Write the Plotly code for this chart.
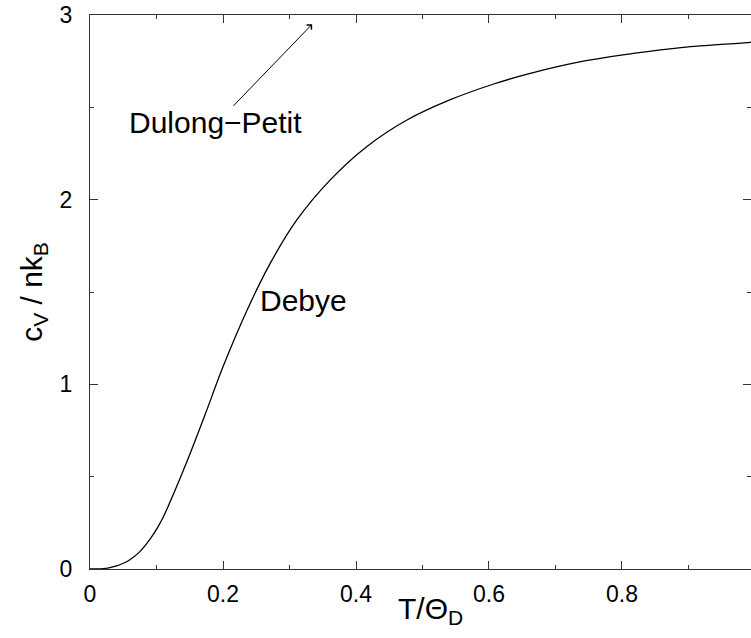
import plotly.graph_objects as go

# Debye curve
t_vals = [0.0, 0.01, 0.02, 0.03, 0.04, 0.05, 0.06, 0.075, 0.09, 0.102, 0.11, 0.12, 0.133,
          0.15, 0.173, 0.2, 0.236, 0.271, 0.311, 0.361, 0.416, 0.476, 0.541, 0.606,
          0.662, 0.742, 0.817, 0.892, 0.992, 1.0]
cv_vals = [0.0, 0.0003, 0.002, 0.008, 0.017, 0.031, 0.05, 0.094, 0.16, 0.227, 0.28, 0.36, 0.47,
           0.62, 0.835, 1.095, 1.40, 1.655, 1.89, 2.106, 2.287, 2.43, 2.54, 2.625,
           2.684, 2.75, 2.792, 2.825, 2.852, 2.856]

x_ticks = [0, 0.2, 0.4, 0.6, 0.8]
x_tick_labels = ["0", "0.2", "0.4", "0.6", "0.8"]
y_ticks = [0, 1, 2, 3]
y_tick_labels = ["0", "1", "2", "3"]
x_max = 0.994

FONT = "Liberation Sans, Arial, Helvetica, sans-serif"
TICK_SIZE = 23
TITLE_SIZE = 30
LABEL_SIZE = 30

fig = go.Figure()
fig.add_trace(go.Scatter(x=t_vals, y=cv_vals, mode="lines",
                         line=dict(color="black", width=1.3, shape="spline", smoothing=1.0),
                         showlegend=False, hoverinfo="skip"))

axis_common = dict(showgrid=False, zeroline=False, showline=True, linecolor="#333",
                   linewidth=1, mirror="ticks", ticks="inside", tickcolor="#333",
                   tickwidth=1, ticklen=8, automargin=False,
                   tickfont=dict(family=FONT, size=TICK_SIZE, color="black"))

fig.update_xaxes(range=[0, x_max], tickvals=x_ticks, ticktext=x_tick_labels,
                 minor=dict(dtick=0.1, tick0=0, ticks="inside", ticklen=4,
                            tickcolor="#333", tickwidth=1),
                 ticklabelstandoff=4, **axis_common)
fig.update_yaxes(range=[0, 3], tickvals=y_ticks, ticktext=y_tick_labels,
                 minor=dict(dtick=0.5, tick0=0, ticks="inside", ticklen=4,
                            tickcolor="#333", tickwidth=1),
                 title=dict(text="c<sub>V</sub> / nk<sub>B</sub>",
                            font=dict(family=FONT, size=TITLE_SIZE, color="black"), standoff=8),
                 ticklabelstandoff=12, **axis_common)

# x-axis title placed just under the tick labels
fig.add_annotation(x=0.5, y=0, xref="paper", yref="paper", text="T/Θ<sub>D</sub>",
                   showarrow=False, yanchor="top", yshift=-21, xshift=10,
                   font=dict(family=FONT, size=TITLE_SIZE, color="black"))

fig.add_annotation(x=0.3203, y=1.456, xref="x", yref="y", text="Debye", showarrow=False,
                   font=dict(family=FONT, size=LABEL_SIZE, color="black"))
fig.add_annotation(x=0.188, y=2.42, xref="x", yref="y", text="Dulong−Petit", showarrow=False,
                   font=dict(family=FONT, size=LABEL_SIZE, color="black"))
fig.add_annotation(x=0.334, y=2.95, ax=0.2135, ay=2.50, xref="x", yref="y",
                   axref="x", ayref="y", text="", showarrow=True, arrowhead=4,
                   arrowsize=1.3, arrowwidth=1, arrowcolor="black", standoff=0, startstandoff=0)
# partially visible "1" tick label at the cut-off right edge
fig.add_annotation(x=1.0, y=0, xref="paper", yref="paper", text="1", showarrow=False,
                   xanchor="left", yanchor="top", yshift=-7, xshift=-3,
                   font=dict(family=FONT, size=TICK_SIZE, color="black"))

fig.update_layout(width=751, height=638, margin=dict(l=90, r=0, t=15, b=69),
                  plot_bgcolor="white", paper_bgcolor="white")

fig.write_html("out.html", config={"displayModeBar": False},
               post_script="document.body.style.margin='0';document.body.style.overflow='hidden';")
